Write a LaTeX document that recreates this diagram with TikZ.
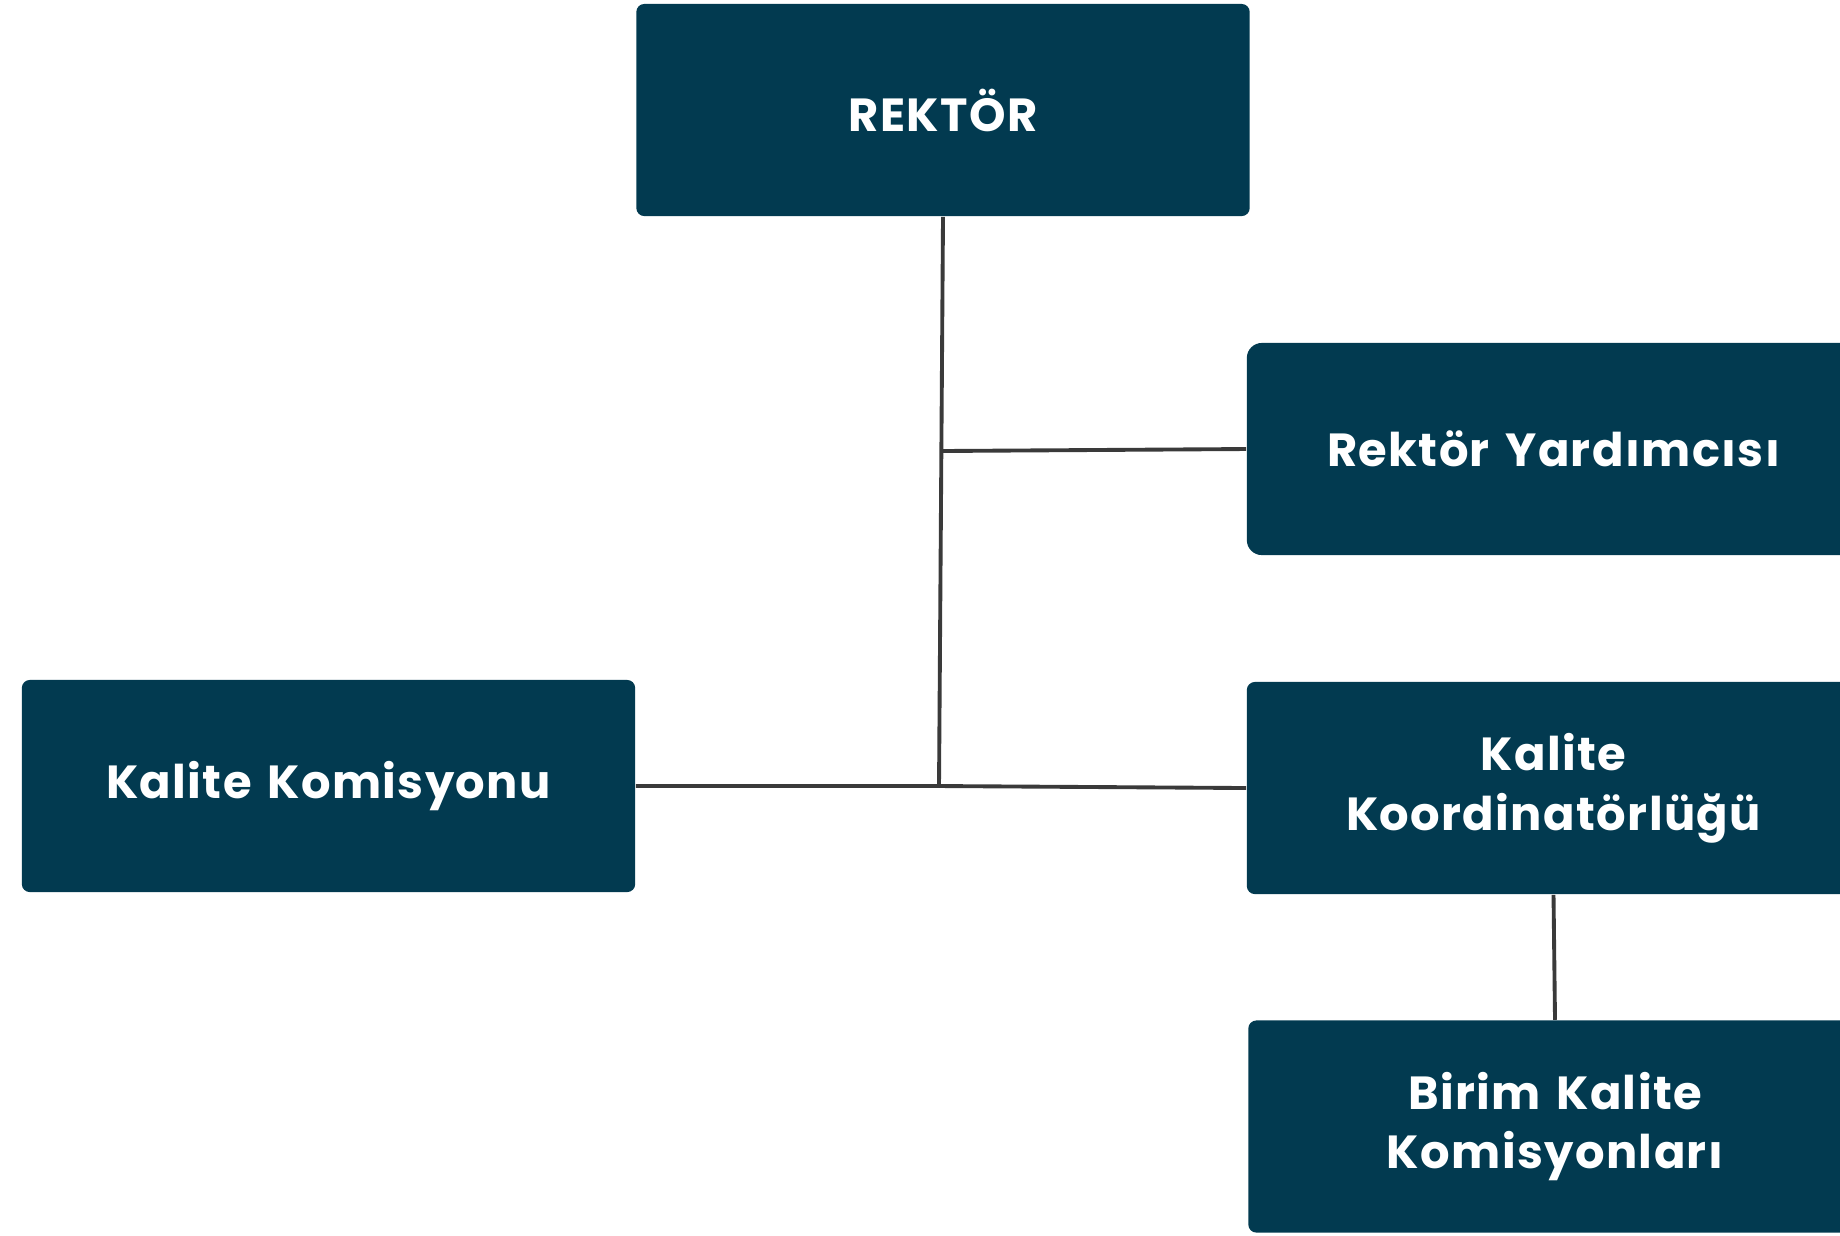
\documentclass[tikz,border=0pt]{standalone}
\usepackage{fontspec}
\usepackage{tikz}
\newfontfamily\orgfont{Poppins}[LetterSpace=3,WordSpace=1.4]
\definecolor{orgblue}{RGB}{2,58,80}
\definecolor{orgline}{RGB}{58,58,58}

\begin{document}
\begin{tikzpicture}[x=0.01cm,y=-0.01cm,
  box/.style={rectangle,fill=orgblue,text=white,rounded corners=0.08cm,
    minimum width=6.13cm,minimum height=2.12cm,inner sep=0pt,align=center,
    font=\orgfont\bfseries\fontsize{13.2}{17}\selectfont},
  link/.style={draw=orgline,line width=1.1pt}]
  \clip (0,0) rectangle (1840,1235);

  % boxes
  \node[box] (rektor) at (943,110) {REKTÖR};
  \node[box,rounded corners=0.15cm] (yardimci) at (1553.5,449) {Rektör Yardımcısı};
  \node[box] (komisyon) at (328.5,786) {Kalite Komisyonu};
  \node[box] (koord) at (1553.5,788) {Kalite\\Koordinatörlüğü};
  \node[box] (birim) at (1555,1126.5) {Birim Kalite\\Komisyonları};

  % connectors
  \coordinate (hub) at (939,786);
  \coordinate (branch) at (941,451);
  \draw[link] (rektor.south) -- (hub);
  \draw[link] (branch) -- (yardimci.west);
  \draw[link] (komisyon.east) -- (hub) -- (koord.west);
  \draw[link] (koord.south) -- (birim.north);

\end{tikzpicture}
\end{document}
